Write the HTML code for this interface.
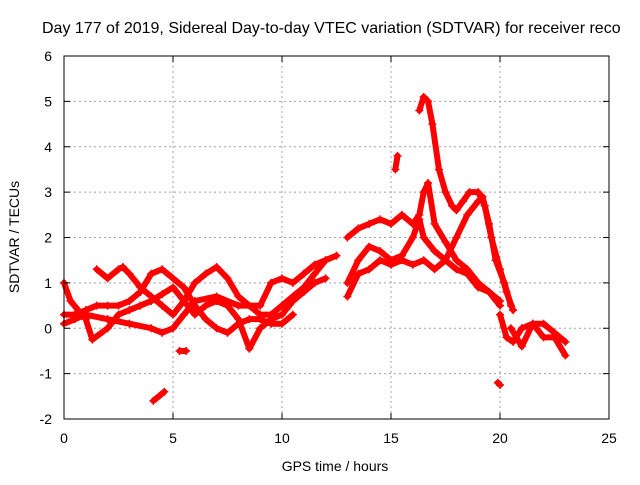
<!DOCTYPE html>
<html><head><meta charset="utf-8"><style>
body{margin:0;background:#fff;width:640px;height:480px;overflow:hidden;font-family:"Liberation Sans",sans-serif}
</style></head><body>
<svg id="chart" width="640" height="480" xmlns="http://www.w3.org/2000/svg" font-family="Liberation Sans, sans-serif">
<rect width="640" height="480" fill="#fff"/>
<text x="42" y="33" font-size="16" fill="#000">Day 177 of 2019, Sidereal Day-to-day VTEC variation (SDTVAR) for receiver reco</text>
<g id="grid"></g><g id="marks"></g><g id="axes"></g>
<text x="335" y="471" font-size="14" text-anchor="middle">GPS time / hours</text>
<text transform="translate(19,237) rotate(-90)" font-size="14" text-anchor="middle">SDTVAR / TECUs</text>
</svg>
<script>
const xTicks=[0,5,10,15,20,25];
const yTicks=[-2,-1,0,1,2,3,4,5,6];
const track1=[[0,1.0],[0.3,0.6],[1,0.2],[1.3,-0.25],[2,0.0],[2.5,0.3],[3,0.4],[3.5,0.5],[4,0.6],[4.5,0.75],[5,0.9],[5.5,0.6],[6,0.3],[6.5,0.5],[7,0.6],[7.5,0.5],[8,0.2],[8.5,-0.45],[9,0.0],[9.5,0.2],[10,0.3],[10.5,0.6],[11,0.8],[11.5,1.0],[12,1.1]];
const track2=[[1.5,1.3],[2,1.1],[2.5,1.3],[2.7,1.35],[3,1.2],[3.5,0.9],[4,0.7],[4.5,0.5],[5,0.3],[5.5,0.6],[6,1.0],[6.5,1.2],[7,1.35],[7.5,1.1],[8,0.7],[8.5,0.5],[9,0.3],[9.5,0.3],[10,0.5],[10.5,0.7],[11,0.9],[11.5,1.2],[12,1.5],[12.5,1.6]];
const track3=[[0,0.3],[0.5,0.3],[1,0.4],[1.5,0.5],[2,0.5],[2.5,0.5],[3,0.6],[3.5,0.8],[4,1.2],[4.5,1.3],[5,1.1],[5.5,0.9],[6,0.5],[6.5,0.2],[7,0.0],[7.5,-0.1],[8,0.1],[8.5,0.2],[9,0.2],[9.5,0.1],[10,0.1],[10.5,0.3]];
const track4=[[0,0.1],[0.5,0.2],[1,0.3],[2,0.2],[3,0.1],[4,0.0],[4.5,-0.1],[5,0.0],[5.5,0.3],[6,0.6],[7,0.7],[8,0.5],[9,0.5],[9.5,1.0],[10,1.1],[10.5,1.0],[11,1.2],[11.5,1.4],[12,1.5]];
const track5=[[13,2.0],[13.5,2.2],[14,2.3],[14.5,2.4],[15,2.3],[15.5,2.5],[16,2.3],[16.3,2.5],[16.5,3.0],[16.7,3.2],[17,2.3],[17.5,1.9],[18,1.5],[18.5,1.3],[19,1.0],[19.5,0.8],[20,0.6]];
const track6=[[13,1.0],[13.5,1.5],[14,1.8],[14.5,1.7],[15,1.5],[15.5,1.6],[16,2.0],[16.3,2.4],[16.5,2.0],[17,1.7],[17.5,1.5],[18,1.3],[18.5,1.2],[19,0.9],[19.5,0.8],[20,0.5]];
const track7=[[13,0.7],[13.5,1.2],[14,1.3],[14.5,1.5],[15,1.4],[15.5,1.5],[16,1.4],[16.5,1.5],[17,1.3],[17.5,1.5],[18,2.0],[18.5,2.5],[19,2.8],[19.2,2.9],[19.5,2.3],[19.8,1.5],[20.2,1.0],[20.5,0.5]];
const track8=[[16.3,4.8],[16.5,5.1],[16.7,5.0],[16.9,4.5],[17.2,3.5],[17.5,3.0],[17.8,2.7],[18,2.6],[18.3,2.8],[18.6,3.0],[19,3.0],[19.3,2.7],[19.6,2.0],[20,1.3],[20.3,0.8],[20.6,0.4]];
const track9=[[20,0.3],[20.3,-0.2],[20.6,-0.3],[21,0.0],[21.5,0.1],[22,-0.2],[22.5,-0.2],[23,-0.6]];
const track10=[[20.5,0.0],[21,-0.4],[21.5,0.1],[22,0.1],[22.5,-0.1],[23,-0.3]];
const blip1=[[4.1,-1.6],[4.6,-1.4]];
const blip2=[[5.3,-0.5],[5.6,-0.5]];
const blip3=[[15.2,3.5],[15.3,3.8]];
const blip4=[[19.9,-1.2],[20.0,-1.25]];
const tracks=[track1,track2,track3,track4,track5,track6,track7,track8,track9,track10,blip1,blip2,blip3,blip4];
const X0=64,X1=609,Y0=419,Y1=56;
const sx=v=>X0+(v-0)/25*(X1-X0);
const sy=v=>Y0-(v+2)/8*(Y0-Y1);
const NS="http://www.w3.org/2000/svg";
const grid=document.getElementById('grid'),axes=document.getElementById('axes'),marks=document.getElementById('marks');
function mk(tag,attrs,parent){const e=document.createElementNS(NS,tag);for(const k in attrs)e.setAttribute(k,attrs[k]);parent.appendChild(e);return e;}
xTicks.forEach(t=>{const x=sx(t);
 if(t>0&&t<25){const g=mk('line',{x1:x,x2:x,y1:Y1,y2:Y0,stroke:'#a0a0a0','stroke-dasharray':'2,3','stroke-width':1},grid);
 
 }
 const tx=mk('text',{x:x,y:Y0+24,'font-size':14,'text-anchor':'middle'},axes);tx.textContent=t;
 
 
 mk('line',{x1:x,x2:x,y1:Y0,y2:Y0-6,stroke:'#000'},axes);mk('line',{x1:x,x2:x,y1:Y1,y2:Y1+6,stroke:'#000'},axes);});
yTicks.forEach(t=>{const y=sy(t);
 if(t>-2&&t<6){const g=mk('line',{x1:X0,x2:X1,y1:y,y2:y,stroke:'#a0a0a0','stroke-dasharray':'2,3','stroke-width':1},grid);
 
 }
 const tx=mk('text',{x:X0-12,y:y+5,'font-size':14,'text-anchor':'end'},axes);tx.textContent=t;
 
 
 mk('line',{x1:X0,x2:X0+6,y1:y,y2:y,stroke:'#000'},axes);mk('line',{x1:X1,x2:X1-6,y1:y,y2:y,stroke:'#000'},axes);});
const fr=mk('rect',{x:X0,y:Y1,width:X1-X0,height:Y0-Y1,fill:'none',stroke:'#000','stroke-width':1},axes);


tracks.forEach(tr=>{
 const pl=mk('polyline',{points:tr.map(p=>sx(p[0])+','+sy(p[1])).join(' '),fill:'none',stroke:'#ff0000','stroke-width':6,'stroke-linejoin':'round','stroke-linecap':'round'},marks);
 
 
 tr.forEach(p=>{const x=sx(p[0]),y=sy(p[1]);
  const m=mk('path',{d:`M${x-4},${y}h8M${x},${y-4}v8`,stroke:'#ff0000','stroke-width':1.5},marks);
  
  });
});
</script>
</body></html>
